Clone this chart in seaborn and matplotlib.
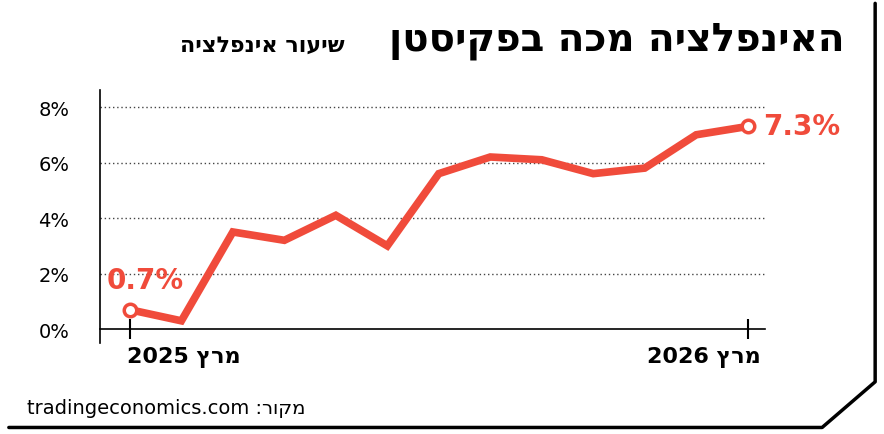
import matplotlib
matplotlib.use("Agg")
import matplotlib.pyplot as plt
import seaborn as sns
import pandas as pd
from matplotlib.lines import Line2D

months = list(range(13))
inflation = [0.7, 0.3, 3.5, 3.2, 4.1, 3.0, 5.6, 6.2, 6.1, 5.6, 5.8, 7.0, 7.3]
yticks = [0, 2, 4, 6, 8]
ytick_labels = ["0%", "2%", "4%", "6%", "8%"]
xtick_pos = [0, 12]
xtick_labels = ["מרץ 2025", "מרץ 2026"]
title = "האינפלציה מכה בפקיסטן"
subtitle = "שיעור אינפלציה"
source = "מקור: tradingeconomics.com"

def vis(s):
    parts = s.split(" ")
    out = []
    for p in parts:
        if any('\u0590' <= c <= '\u05ff' for c in p):
            out.append(p[::-1])
        else:
            out.append(p)
    return " ".join(out[::-1])

sns.set_style("white")
plt.rcParams['font.family'] = ['DejaVu Sans']
plt.rcParams['text.color'] = 'black'
plt.rcParams['xtick.color'] = 'black'
plt.rcParams['ytick.color'] = 'black'
red = "#f04b3b"
df = pd.DataFrame({"m": months, "v": inflation})

fig = plt.figure(figsize=(8.84, 4.35), dpi=100)
ax = fig.add_axes([0.113, 0.241, 0.752, 0.549])
sns.lineplot(data=df, x="m", y="v", ax=ax, color=red, linewidth=5.5, solid_joinstyle="miter")
for i in (0, 12):
    ax.plot(months[i], inflation[i], "o", ms=9, mfc="white", mec=red, mew=2.5, zorder=5)
ax.text(-0.45, inflation[0] + 0.55, f"{inflation[0]}%", color=red, fontsize=20, fontweight="bold", ha="left", va="bottom")
ax.text(12.3, inflation[12], f"{inflation[12]}%", color=red, fontsize=20, fontweight="bold", ha="left", va="center", clip_on=False)

ax.set_xlim(-0.583, 12.33)
ax.set_ylim(0, 8.6)
ax.set_yticks(yticks)
ax.set_yticklabels(ytick_labels, fontsize=14)
ax.set_xticks(xtick_pos)
ax.set_xticklabels([])
for p, t, ha, dx in zip(xtick_pos, xtick_labels, ["left", "right"], [-0.05, 0.25]):
    ax.text(p + dx, -0.6, vis(t), ha=ha, va="top", fontsize=16, fontweight="bold")
ax.tick_params(axis="x", bottom=True, length=14, width=1.5, color="black", direction="inout")
ax.tick_params(axis="y", length=0, pad=22)
for y in yticks[1:]:
    ax.axhline(y, color="#444", linestyle=(0, (1, 2)), linewidth=1, zorder=0)
ax.set_xlabel(""); ax.set_ylabel("")
for s in ["top", "right"]:
    ax.spines[s].set_visible(False)
for s in ["left", "bottom"]:
    ax.spines[s].set_linewidth(1.2)
    ax.spines[s].set_color("black")
ax.spines["left"].set_bounds(-0.5, 8.6)

fig.text(0.955, 0.905, vis(title), ha="right", va="center", fontsize=28, fontweight="bold")
fig.text(0.39, 0.895, vis(subtitle), ha="right", va="center", fontsize=16, fontweight="bold")
fig.text(0.03, 0.06, vis(source), ha="left", va="center", fontsize=14)

fig.add_artist(Line2D([0.99, 0.99, 0.93, 0.01], [0.99, 0.12, 0.015, 0.015], color="black", lw=2.5, transform=fig.transFigure))
fig.savefig("out.png", dpi=100)
